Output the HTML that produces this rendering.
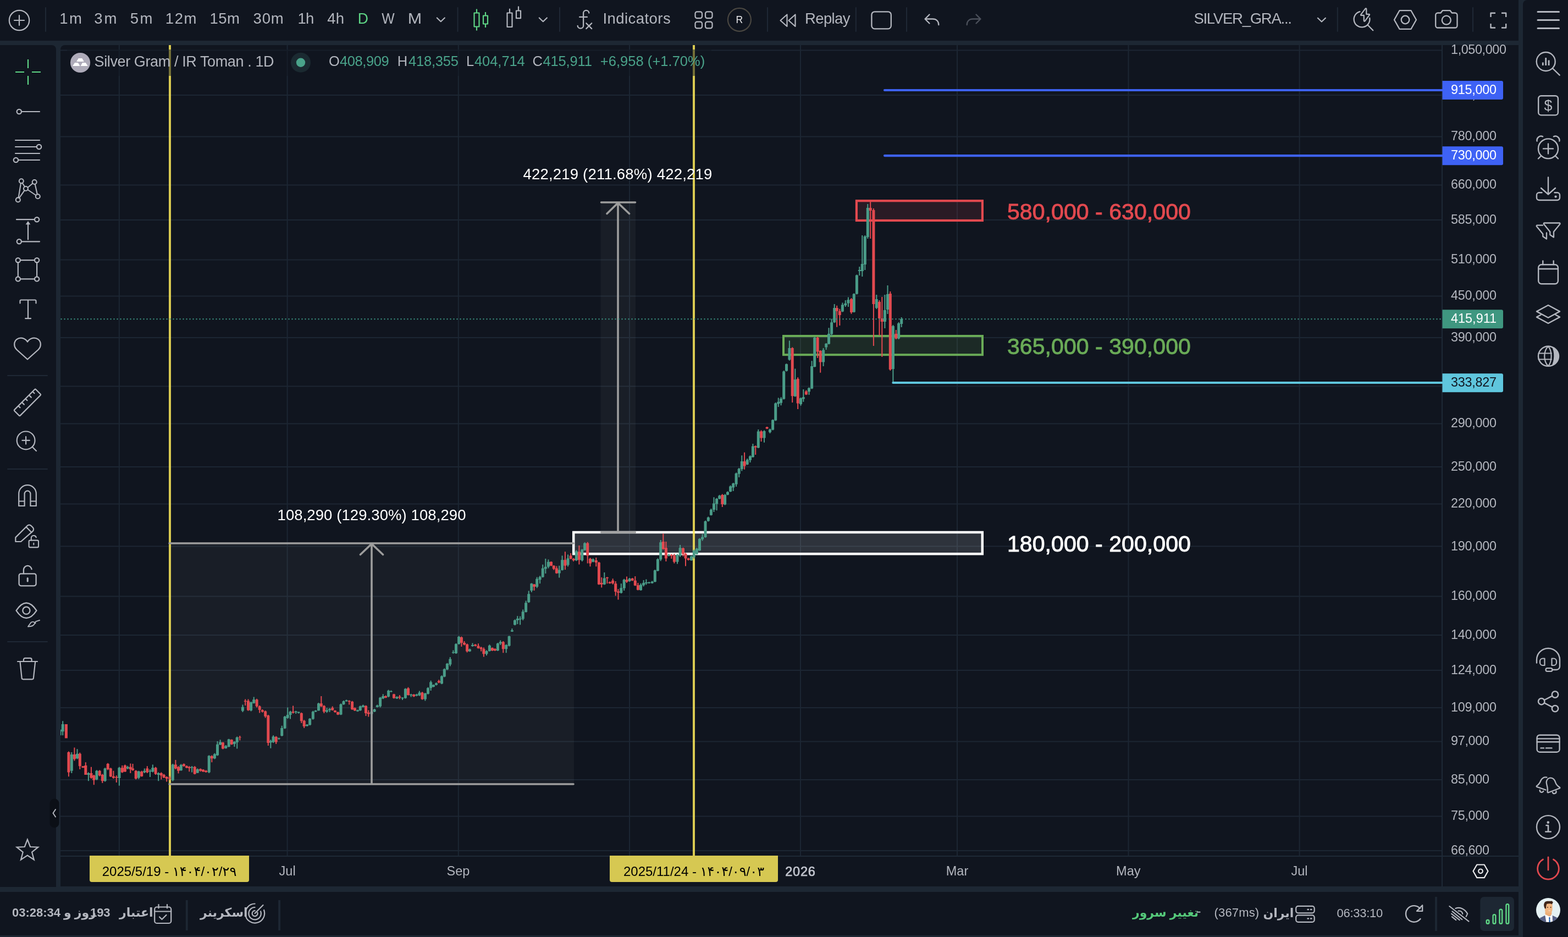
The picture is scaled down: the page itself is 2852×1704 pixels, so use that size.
<!DOCTYPE html>
<html><head><meta charset="utf-8"><title>Chart</title>
<style>
html,body{margin:0;padding:0;background:#1d2733;}
body{width:2852px;height:1704px;position:relative;overflow:hidden;font-family:"Liberation Sans", sans-serif;}
svg text{font-family:"Liberation Sans", sans-serif;}
</style></head><body>
<svg width="2852" height="1704" viewBox="0 0 2852 1704" style="position:absolute;left:0;top:0;display:block;will-change:transform"><rect x="0" y="0" width="2852" height="1704" fill="#1d2733"/>
<rect x="0" y="0" width="2762" height="74" fill="#10151f"/>
<path d="M0 82H94a8 8 0 0 1 8 8V1613H0Z" fill="#10151f"/>
<path d="M118 82H2762V1612H110V90a8 8 0 0 1 8-8Z" fill="#10151f"/>
<rect x="0" y="1622" width="2762" height="79" fill="#10151f"/>
<path d="M2778 0H2852V1704H2770V8a8 8 0 0 1 8-8Z" fill="#10151f"/>
<path d="M216.8 82V1556M522.6 82V1556M833.8 82V1556M1145 82V1556M1456 82V1556M1741 82V1556M2052.5 82V1556M2363.6 82V1556M110 91.5H2622M110 173.0H2622M110 248.5H2622M110 336.5H2622M110 400.0H2622M110 472.5H2622M110 538.5H2622M110 614.0H2622M110 702.5H2622M110 770.5H2622M110 849.0H2622M110 916.5H2622M110 993.5H2622M110 1084.5H2622M110 1155.0H2622M110 1219.0H2622M110 1287.0H2622M110 1348.5H2622M110 1418.0H2622M110 1484.5H2622M110 1547.0H2622" stroke="#1c2633" stroke-width="2" fill="none"/>
<path d="M110 1557H2762M2623 82V1612" stroke="#1e2936" stroke-width="2" fill="none"/>
<rect x="309" y="988" width="735" height="438" fill="rgba(158,158,158,0.065)"/>
<rect x="1092.5" y="368" width="63.5" height="600" fill="rgba(158,158,158,0.065)"/>
<rect x="1043" y="968" width="744" height="39.5" fill="rgba(255,255,255,0.13)"/>
<rect x="1425" y="611" width="362" height="34.2" fill="rgba(106,171,86,0.14)"/>
<rect x="1558" y="365.2" width="229" height="35.8" fill="rgba(226,73,79,0.12)"/>
<rect x="1043.2" y="968" width="743.6" height="39.3" fill="none" stroke="#ffffff" stroke-width="4.5"/>
<rect x="1425" y="611" width="362" height="34.2" fill="none" stroke="#6aab57" stroke-width="4"/>
<rect x="1557.9" y="365.2" width="229" height="35.8" fill="none" stroke="#e2494f" stroke-width="4.2"/>
<path d="M309 82V1556M1262 82V1556" stroke="rgba(250,232,90,0.86)" stroke-width="4"/>
<clipPath id="cc"><rect x="110" y="82" width="2512" height="1474"/></clipPath>
<g clip-path="url(#cc)"><path d="M108.1 1326.8h2V1337.3h-2ZM113.2 1311.2h2V1337.3h-2ZM129.3 1367.9h2V1406.1h-2ZM139.5 1362.2h2V1380.6h-2ZM159.9 1404.6h2V1420.2h-2ZM174.9 1400.4h2V1418.8h-2ZM190.1 1396.2h2V1421.6h-2ZM215.9 1394.7h2V1428.7h-2ZM231.2 1392.8h2V1399h-2ZM251.3 1401.8h2V1416.8h-2ZM261.8 1397.6h2V1406.1h-2ZM271.9 1399h2V1413.1h-2ZM276.8 1390.5h2V1404.6h-2ZM287.2 1404.6h2V1420.2h-2ZM313.3 1389.1h2V1420.8h-2ZM328.3 1389.6h2V1401.8h-2ZM348.1 1393.3h2V1404.6h-2ZM358.3 1397.6h2V1406.1h-2ZM379.2 1373.5h2V1406.1h-2ZM389.4 1369.8h2V1380.6h-2ZM394.5 1348h2V1374.4h-2ZM399.6 1345.2h2V1355.1h-2ZM409.8 1355.1h2V1361.6h-2ZM415.2 1343.8h2V1358.8h-2ZM425.4 1348h2V1357.9h-2ZM430.2 1339.5h2V1361.6h-2ZM440.4 1281.5h2V1295.1h-2ZM455.6 1275.9h2V1293.4h-2ZM460.7 1267.4h2V1279.5h-2ZM491.3 1345.2h2V1360.8h-2ZM496.1 1337.3h2V1350.9h-2ZM506.3 1341.5h2V1344.9h-2ZM511.7 1319.7h2V1339h-2ZM517.1 1301.9h2V1325.4h-2ZM522.2 1286.6h2V1307h-2ZM527 1292.8h2V1307.6h-2ZM537.2 1292.8h2V1297.9h-2ZM542.2 1294.3h2V1297.4h-2ZM557.5 1316.9h2V1321.1h-2ZM562.6 1305.9h2V1319.2h-2ZM568.3 1292.8h2V1308.7h-2ZM573.1 1291.4h2V1295.1h-2ZM578.5 1278.1h2V1292.8h-2ZM593.5 1287.2h2V1296.2h-2ZM598.6 1287.7h2V1295.1h-2ZM619 1279.5h2V1300.2h-2ZM624 1273.9h2V1281.8h-2ZM629.1 1272.5h2V1276.1h-2ZM649.5 1290.6h2V1294.3h-2ZM654.3 1283.2h2V1292.8h-2ZM659.4 1281.5h2V1286.6h-2ZM675 1292.8h2V1302.8h-2ZM680.1 1288.9h2V1295.1h-2ZM685.2 1281.5h2V1286.6h-2ZM690.6 1267.4h2V1286.6h-2ZM695.7 1262.3h2V1271.3h-2ZM705.6 1254.6h2V1267.9h-2ZM710.4 1255.5h2V1258.9h-2ZM720.9 1266.2h2V1271.1h-2ZM731 1267.9h2V1273h-2ZM736.4 1251.5h2V1270.5h-2ZM746.6 1261.7h2V1267.4h-2ZM756.8 1261.7h2V1266.2h-2ZM761.9 1256.6h2V1265.7h-2ZM772.4 1260h2V1274.4h-2ZM777.5 1249.8h2V1262.8h-2ZM782.6 1237.7h2V1256h-2ZM787.4 1244.7h2V1249.8h-2ZM792.5 1241.3h2V1246.4h-2ZM802.5 1228.3h2V1244.2h-2ZM807.3 1215.6h2V1231.4h-2ZM812.4 1205.7h2V1218.4h-2ZM817.8 1194.9h2V1211.4h-2ZM823.4 1182.5h2V1188.7h-2ZM828.5 1170h2V1189h-2ZM833.6 1156.4h2V1172h-2ZM853.4 1179.6h2V1185.3h-2ZM858.5 1169.5h2V1176h-2ZM884 1182.5h2V1192.1h-2ZM889.4 1172.3h2V1184.7h-2ZM904.4 1168.9h2V1183.9h-2ZM909.2 1164.6h2V1173.1h-2ZM919.7 1171.7h2V1187.3h-2ZM925.1 1156.2h2V1175.4h-2ZM930.4 1142.9h2V1149.1h-2ZM935.5 1126.4h2V1137.2h-2ZM940.3 1120.2h2V1134.9h-2ZM945.1 1120.8h2V1136.3h-2ZM950.2 1108.6h2V1127.9h-2ZM955.6 1092.5h2V1113.7h-2ZM960.7 1074.6h2V1096.2h-2ZM965.8 1060.5h2V1076.9h-2ZM975.7 1049.4h2V1069.3h-2ZM981.1 1047.2h2V1061.3h-2ZM986.2 1026.8h2V1050.3h-2ZM991.3 1016h2V1042.9h-2ZM996.4 1017.5h2V1033.6h-2ZM1016.2 1028.8h2V1050.6h-2ZM1021.6 1010.4h2V1037.6h-2ZM1032 1008.4h2V1030.2h-2ZM1047.3 1000.5h2V1020.3h-2ZM1057.8 998.5h2V1021.1h-2ZM1062.6 986.3h2V1001.3h-2ZM1077.6 1015.5h2V1022.6h-2ZM1098.3 1041h2V1063.6h-2ZM1128.8 1061.3h2V1079.2h-2ZM1134.2 1052.8h2V1074.1h-2ZM1144.1 1051.1h2V1057.9h-2ZM1164.5 1060.8h2V1074.1h-2ZM1169.6 1055.1h2V1066.4h-2ZM1174.4 1053.4h2V1063.6h-2ZM1179.5 1057.9h2V1061.3h-2ZM1185.2 1056.5h2V1061.3h-2ZM1190.3 1035.9h2V1058.8h-2ZM1195.4 1015.5h2V1039h-2ZM1200.7 982.1h2V1020.3h-2ZM1215.5 1007h2V1011.8h-2ZM1231 1007.6h2V1025.4h-2ZM1236.1 991.1h2V1012.7h-2ZM1256.5 1010.4h2V1019.7h-2ZM1261.3 999.6h2V1016h-2ZM1266.4 996.2h2V1008.4h-2ZM1271.5 978.7h2V1001.9h-2ZM1276.6 971.3h2V983.5h-2ZM1282 946.7h2V977.8h-2ZM1287.3 939.6h2V948.4h-2ZM1292.4 924.9h2V937.6h-2ZM1297.5 904.2h2V931.1h-2ZM1302.6 905.7h2V928.3h-2ZM1307.7 900h2V907.9h-2ZM1317.6 898.6h2V918.4h-2ZM1322.5 893.4h2V900.5h-2ZM1327.6 882.7h2V894.8h-2ZM1332.7 877.9h2V892.9h-2ZM1338.1 859.5h2V884.9h-2ZM1343.2 851h2V868h-2ZM1348.3 828.3h2V856.6h-2ZM1358.2 834h2V845.6h-2ZM1363.5 828.3h2V841.1h-2ZM1368.4 807.1h2V832h-2ZM1378.3 781.1h2V815h-2ZM1389 782.5h2V804.8h-2ZM1399.5 779.6h2V788.1h-2ZM1404.6 762.7h2V782.5h-2ZM1409.7 732.1h2V765.5h-2ZM1414.8 723.6h2V740h-2ZM1419.6 722.2h2V737.2h-2ZM1424.7 674.1h2V726.4h-2ZM1429.5 661.3h2V675.5h-2ZM1434.9 619.4h2V655.7h-2ZM1445.3 670.4h2V721.6h-2ZM1455.5 723h2V737.8h-2ZM1460.3 708h2V730.7h-2ZM1470.5 704.4h2V717.9h-2ZM1475.6 656.2h2V707.5h-2ZM1480.7 612.7h2V667.8h-2ZM1496.6 633h2V666.1h-2ZM1501.7 624h2V635.9h-2ZM1506.5 596.2h2V626.2h-2ZM1511.6 579.8h2V611.8h-2ZM1516.7 552.9h2V587.2h-2ZM1531.4 550.4h2V567.4h-2ZM1536.8 545.9h2V558h-2ZM1541.9 540.5h2V558h-2ZM1552.3 533.4h2V568.2h-2ZM1557.4 499.4h2V535.4h-2ZM1562.3 485h2V501h-2ZM1567.3 428h2V503h-2ZM1572.3 428h2V491h-2ZM1577.3 371h2V434h-2ZM1593.3 536h2V562h-2ZM1608.4 536h2V597h-2ZM1613.5 519h2V571h-2ZM1623.4 591h2V695h-2ZM1633.6 586h2V617h-2ZM1638.7 577h2V595h-2ZM106.6 1326.8h5.0V1337.3h-5.0ZM111.7 1316.9h5.0V1330.2h-5.0ZM127.8 1372.1h5.0V1401.8h-5.0ZM138 1370.7h5.0V1379.2h-5.0ZM158.4 1406.1h5.0V1408.9h-5.0ZM173.4 1401.8h5.0V1417.4h-5.0ZM188.6 1397.6h5.0V1420.2h-5.0ZM214.4 1396.2h5.0V1415.1h-5.0ZM229.7 1394.7h5.0V1397.6h-5.0ZM249.8 1402.7h5.0V1414.6h-5.0ZM260.3 1401.8h5.0V1404.6h-5.0ZM270.4 1401.8h5.0V1403.2h-5.0ZM275.3 1396.2h5.0V1403.2h-5.0ZM285.7 1406.1h5.0V1408.9h-5.0ZM311.8 1390.5h5.0V1418.8h-5.0ZM326.8 1391.1h5.0V1401h-5.0ZM346.6 1394.7h5.0V1396.2h-5.0ZM356.8 1399h5.0V1405.5h-5.0ZM377.7 1374.4h5.0V1404.6h-5.0ZM387.9 1371.5h5.0V1379.2h-5.0ZM393 1353.7h5.0V1373.5h-5.0ZM398.1 1349.5h5.0V1354.3h-5.0ZM408.3 1356.5h5.0V1360.8h-5.0ZM413.7 1344.6h5.0V1357.9h-5.0ZM423.9 1348.9h5.0V1352.9h-5.0ZM428.7 1341h5.0V1350h-5.0ZM438.9 1285.8h5.0V1292.8h-5.0ZM454.1 1277.3h5.0V1292h-5.0ZM459.2 1272.2h5.0V1278.7h-5.0ZM489.8 1347.5h5.0V1350.3h-5.0ZM494.6 1339.5h5.0V1349.5h-5.0ZM504.8 1342.4h5.0V1343.8h-5.0ZM510.2 1324h5.0V1338.1h-5.0ZM515.6 1303.3h5.0V1324.5h-5.0ZM520.7 1299.9h5.0V1305.6h-5.0ZM525.5 1294.3h5.0V1299.9h-5.0ZM535.7 1293.7h5.0V1295.1h-5.0ZM540.7 1294.8h5.0V1296.5h-5.0ZM556 1317.8h5.0V1320.3h-5.0ZM561.1 1307h5.0V1318.3h-5.0ZM566.8 1294.3h5.0V1307.6h-5.0ZM571.6 1292.3h5.0V1294.3h-5.0ZM577 1279.3h5.0V1292.3h-5.0ZM592 1291.4h5.0V1294.3h-5.0ZM597.1 1289.2h5.0V1291.4h-5.0ZM617.5 1280.7h5.0V1299.4h-5.0ZM622.5 1275.3h5.0V1281h-5.0ZM627.6 1273.6h5.0V1275.3h-5.0ZM648 1291.4h5.0V1293.4h-5.0ZM652.8 1284.4h5.0V1292h-5.0ZM657.9 1282.9h5.0V1285.8h-5.0ZM673.5 1294.3h5.0V1298.5h-5.0ZM678.6 1290h5.0V1294.3h-5.0ZM683.7 1282.9h5.0V1285.8h-5.0ZM689.1 1268.8h5.0V1284.4h-5.0ZM694.2 1266h5.0V1270.2h-5.0ZM704.1 1256h5.0V1266.8h-5.0ZM708.9 1256.9h5.0V1258.1h-5.0ZM719.4 1267.4h5.0V1270.2h-5.0ZM729.5 1268.8h5.0V1270.2h-5.0ZM734.9 1252.7h5.0V1269.6h-5.0ZM745.1 1263.1h5.0V1264.5h-5.0ZM755.3 1263.1h5.0V1265.1h-5.0ZM760.4 1259.4h5.0V1264.5h-5.0ZM770.9 1261.1h5.0V1271.6h-5.0ZM776 1251.2h5.0V1261.7h-5.0ZM781.1 1240.5h5.0V1251.2h-5.0ZM785.9 1245.6h5.0V1249h-5.0ZM791 1242.5h5.0V1245.6h-5.0ZM801 1229.7h5.0V1243.3h-5.0ZM805.8 1217h5.0V1230.6h-5.0ZM810.9 1207.1h5.0V1217.6h-5.0ZM816.3 1198.6h5.0V1208.5h-5.0ZM821.9 1185.9h5.0V1187.3h-5.0ZM827 1171.2h5.0V1188.1h-5.0ZM832.1 1158.1h5.0V1171.2h-5.0ZM851.9 1180.8h5.0V1184.5h-5.0ZM857 1173.1h5.0V1175.1h-5.0ZM882.5 1183.9h5.0V1189.3h-5.0ZM887.9 1174h5.0V1183.9h-5.0ZM902.9 1170.3h5.0V1183h-5.0ZM907.7 1167.5h5.0V1170.3h-5.0ZM918.2 1173.1h5.0V1180.2h-5.0ZM923.6 1157h5.0V1174.6h-5.0ZM928.9 1146.2h5.0V1148.5h-5.0ZM934 1127.9h5.0V1136.3h-5.0ZM938.8 1125h5.0V1127.9h-5.0ZM943.6 1125h5.0V1126.4h-5.0ZM948.7 1112.3h5.0V1125.6h-5.0ZM954.1 1096.2h5.0V1112.9h-5.0ZM959.2 1080.3h5.0V1095.3h-5.0ZM964.3 1061.3h5.0V1074.1h-5.0ZM974.2 1052.8h5.0V1067h-5.0ZM979.6 1049.2h5.0V1054.3h-5.0ZM984.7 1033.6h5.0V1049.4h-5.0ZM989.8 1030.8h5.0V1034.4h-5.0ZM994.9 1021.7h5.0V1030.8h-5.0ZM1014.7 1036.4h5.0V1042.4h-5.0ZM1020.1 1018.3h5.0V1036.7h-5.0ZM1030.5 1015.5h5.0V1027.4h-5.0ZM1045.8 1002.5h5.0V1018.9h-5.0ZM1056.3 999.6h5.0V1018.9h-5.0ZM1061.1 987.7h5.0V1000.5h-5.0ZM1076.1 1016.9h5.0V1021.7h-5.0ZM1096.8 1051.4h5.0V1062.8h-5.0ZM1127.3 1069.3h5.0V1078.3h-5.0ZM1132.7 1054.3h5.0V1069.8h-5.0ZM1142.6 1052.3h5.0V1057.1h-5.0ZM1163 1063.6h5.0V1073.2h-5.0ZM1168.1 1059.9h5.0V1064.2h-5.0ZM1172.9 1059.1h5.0V1060.8h-5.0ZM1178 1059.1h5.0V1060.5h-5.0ZM1183.7 1057.7h5.0V1060.5h-5.0ZM1188.8 1037.3h5.0V1057.9h-5.0ZM1193.9 1016.9h5.0V1038.1h-5.0ZM1199.2 986.3h5.0V1017.5h-5.0ZM1214 1009h5.0V1011h-5.0ZM1229.5 1009h5.0V1021.7h-5.0ZM1234.6 996.2h5.0V1010.4h-5.0ZM1255 1011.8h5.0V1018.9h-5.0ZM1259.8 1001.3h5.0V1013.2h-5.0ZM1264.9 997.7h5.0V1007.6h-5.0ZM1270 980.1h5.0V1001h-5.0ZM1275.1 976.4h5.0V980.7h-5.0ZM1280.5 948.1h5.0V977h-5.0ZM1285.8 941h5.0V947.6h-5.0ZM1290.9 926.9h5.0V936.8h-5.0ZM1296 915.6h5.0V926.9h-5.0ZM1301.1 907.1h5.0V916.4h-5.0ZM1306.2 901.4h5.0V907.1h-5.0ZM1316.1 900h5.0V917.5h-5.0ZM1321 894.8h5.0V899.7h-5.0ZM1326.1 884.4h5.0V894h-5.0ZM1331.2 879.3h5.0V886.4h-5.0ZM1336.6 860.9h5.0V880.7h-5.0ZM1341.7 852.4h5.0V861.7h-5.0ZM1346.8 839.1h5.0V853h-5.0ZM1356.7 836.3h5.0V844.7h-5.0ZM1362 829.7h5.0V836.8h-5.0ZM1366.9 811.4h5.0V831.2h-5.0ZM1376.8 784.5h5.0V814.2h-5.0ZM1387.5 783.9h5.0V796.6h-5.0ZM1398 781.1h5.0V785.9h-5.0ZM1403.1 763.8h5.0V781.6h-5.0ZM1408.2 733.5h5.0V764.6h-5.0ZM1413.3 730.7h5.0V734.4h-5.0ZM1418.1 725h5.0V732.7h-5.0ZM1423.2 675.5h5.0V725.6h-5.0ZM1428 662.2h5.0V674.6h-5.0ZM1433.4 633h5.0V654.3h-5.0ZM1443.8 690.2h5.0V720.8h-5.0ZM1454 724.2h5.0V734.9h-5.0ZM1458.8 722.2h5.0V725.6h-5.0ZM1469 705.8h5.0V712.3h-5.0ZM1474.1 666.1h5.0V706.6h-5.0ZM1479.2 614.1h5.0V667h-5.0ZM1495.1 636.4h5.0V658.5h-5.0ZM1500.2 625.1h5.0V631.6h-5.0ZM1505 607h5.0V625.4h-5.0ZM1510.1 586.3h5.0V607.6h-5.0ZM1515.2 560h5.0V586.3h-5.0ZM1529.9 554.3h5.0V566.5h-5.0ZM1535.3 551.8h5.0V555.2h-5.0ZM1540.4 545.3h5.0V551.5h-5.0ZM1550.8 534.5h5.0V567.4h-5.0ZM1555.9 500.6h5.0V534.5h-5.0ZM1560.8 491h5.0V493h-5.0ZM1565.8 480h5.0V493h-5.0ZM1570.8 430h5.0V481h-5.0ZM1575.8 378h5.0V431h-5.0ZM1591.8 544h5.0V560h-5.0ZM1606.9 564h5.0V585h-5.0ZM1612 535h5.0V563h-5.0ZM1621.9 593h5.0V671h-5.0ZM1632.1 588h5.0V615.5h-5.0ZM1637.2 580h5.0V589h-5.0Z" fill="#4a9c88"/>
<path d="M119.4 1316.9h2V1342.4h-2ZM123.9 1366.4h2V1412.3h-2ZM134.4 1359.4h2V1383.4h-2ZM144.3 1368.7h2V1399h-2ZM149.9 1393.3h2V1396.2h-2ZM154.8 1386.2h2V1408.9h-2ZM164.9 1394.7h2V1416h-2ZM169.8 1408.9h2V1427.3h-2ZM180.2 1400.4h2V1411.7h-2ZM185.3 1407.5h2V1423.9h-2ZM195.2 1387.7h2V1400.4h-2ZM200.3 1396.2h2V1413.1h-2ZM205.4 1401.8h2V1416h-2ZM210.8 1410.3h2V1423h-2ZM221.3 1391.9h2V1405.5h-2ZM226.4 1390.5h2V1404.1h-2ZM236.3 1388.5h2V1406.1h-2ZM240.5 1389.1h2V1401.8h-2ZM246.2 1400.4h2V1417.4h-2ZM256.7 1401.8h2V1412.6h-2ZM266.8 1393.3h2V1406.1h-2ZM282.1 1394.7h2V1408.9h-2ZM292.3 1404.6h2V1417.4h-2ZM297.1 1407.5h2V1415.1h-2ZM302.2 1411.7h2V1421.6h-2ZM307.6 1411.2h2V1418.8h-2ZM318.4 1382h2V1399h-2ZM323.5 1393.3h2V1406.6h-2ZM333.4 1388.5h2V1394.2h-2ZM338.5 1391.9h2V1397h-2ZM343.3 1393.3h2V1403.2h-2ZM353.2 1393.3h2V1408.3h-2ZM363.6 1397.6h2V1403.2h-2ZM368.5 1399h2V1404.1h-2ZM373.6 1400.4h2V1404.9h-2ZM384.3 1373.5h2V1386.2h-2ZM404.4 1349.5h2V1362.5h-2ZM420.3 1344.4h2V1354.5h-2ZM435.3 1338.1h2V1346.6h-2ZM445.2 1271.6h2V1282.9h-2ZM450.5 1271.6h2V1292.8h-2ZM466.1 1270.8h2V1286.6h-2ZM471.2 1282.9h2V1296.5h-2ZM476.3 1290h2V1295.7h-2ZM481.7 1292.3h2V1305.6h-2ZM486.8 1299.9h2V1356h-2ZM501.2 1338.7h2V1352.9h-2ZM532.1 1283.5h2V1297.4h-2ZM547.3 1295.7h2V1314.9h-2ZM552.2 1309.3h2V1324h-2ZM583.3 1266h2V1285.8h-2ZM588.4 1282.4h2V1297.1h-2ZM603.7 1284.4h2V1292.3h-2ZM608.5 1291.4h2V1296h-2ZM613.6 1294.3h2V1300.2h-2ZM634.2 1273.6h2V1281.5h-2ZM639.6 1274.7h2V1291.1h-2ZM644.4 1286.6h2V1293.1h-2ZM664.5 1282.7h2V1301.9h-2ZM669.3 1291.4h2V1303.6h-2ZM700.5 1264.8h2V1269.6h-2ZM715.5 1261.7h2V1270.5h-2ZM725.9 1264h2V1271.6h-2ZM741.5 1249.8h2V1264.8h-2ZM751.7 1262.3h2V1267.4h-2ZM767 1258.3h2V1272.5h-2ZM797.3 1236.2h2V1242.5h-2ZM838.4 1157.6h2V1176h-2ZM843.5 1166.1h2V1173.4h-2ZM848.6 1170.6h2V1186.4h-2ZM863.6 1171.2h2V1175.4h-2ZM869 1170.3h2V1179.6h-2ZM874.1 1176.3h2V1184.5h-2ZM878.9 1177.4h2V1194.4h-2ZM894.5 1177.4h2V1183.9h-2ZM899.3 1179.1h2V1183.9h-2ZM914.3 1166.1h2V1187.3h-2ZM970.6 1061.9h2V1074.1h-2ZM1001.5 1020.9h2V1029.6h-2ZM1006.3 1027.9h2V1036.4h-2ZM1011.4 1029.6h2V1043.2h-2ZM1026.9 1003.3h2V1035.9h-2ZM1037.1 1006.1h2V1016.9h-2ZM1042.2 1014.9h2V1021.1h-2ZM1052.4 992h2V1026.5h-2ZM1067.7 985.8h2V1024.5h-2ZM1072.5 1014.6h2V1030.2h-2ZM1083.3 1014.1h2V1030.2h-2ZM1088.4 1021.7h2V1063.6h-2ZM1093.2 1050h2V1068.4h-2ZM1103.4 1049.2h2V1061.3h-2ZM1108.2 1057.4h2V1061.6h-2ZM1113.6 1052.3h2V1062.8h-2ZM1118.7 1057.1h2V1083.4h-2ZM1123.5 1071.2h2V1090.5h-2ZM1139 1048.6h2V1059.9h-2ZM1149.2 1050.9h2V1056.5h-2ZM1154.3 1048h2V1065.6h-2ZM1159.4 1059.9h2V1073.5h-2ZM1205.3 970.2h2V999.6h-2ZM1210.4 984.9h2V1020.9h-2ZM1220.3 1007.6h2V1016h-2ZM1225.4 1007h2V1024.5h-2ZM1241.5 995.7h2V1011.8h-2ZM1246 1005.3h2V1029.6h-2ZM1251.1 1014.4h2V1019.2h-2ZM1312.8 898.6h2V922.1h-2ZM1353.1 822.7h2V853.8h-2ZM1373.2 810.2h2V826.9h-2ZM1383.6 782.5h2V802.9h-2ZM1394.1 776h2V780.2h-2ZM1440.2 631.6h2V732.1h-2ZM1450.2 686.2h2V744h-2ZM1465.4 709.5h2V718.2h-2ZM1486.1 612.4h2V650.9h-2ZM1491.2 637h2V677.8h-2ZM1521.2 555.8h2V594.8h-2ZM1526.3 561.7h2V592h-2ZM1547.5 541.9h2V570.8h-2ZM1582.2 367h2V434h-2ZM1587.9 379h2V629h-2ZM1598.5 546h2V610h-2ZM1603.3 540h2V649h-2ZM1618.3 530h2V674h-2ZM1628.8 600h2V617h-2ZM117.9 1316.9h5.0V1342.4h-5.0ZM122.4 1367.9h5.0V1404.6h-5.0ZM132.9 1372.1h5.0V1380.6h-5.0ZM142.8 1370.7h5.0V1393.3h-5.0ZM148.4 1393.3h5.0V1396.2h-5.0ZM153.3 1391.9h5.0V1408.9h-5.0ZM163.4 1406.1h5.0V1414.6h-5.0ZM168.3 1410.3h5.0V1418.8h-5.0ZM178.7 1401.8h5.0V1410.3h-5.0ZM183.8 1408.9h5.0V1420.2h-5.0ZM193.7 1389.1h5.0V1399h-5.0ZM198.8 1397.6h5.0V1412.3h-5.0ZM203.9 1411.7h5.0V1414.6h-5.0ZM209.3 1413.1h5.0V1414.6h-5.0ZM219.8 1396.2h5.0V1404.6h-5.0ZM224.9 1391.9h5.0V1403.2h-5.0ZM234.8 1394.7h5.0V1399h-5.0ZM239 1397.6h5.0V1400.4h-5.0ZM244.7 1401.8h5.0V1416h-5.0ZM255.2 1403.2h5.0V1411.7h-5.0ZM265.3 1397.6h5.0V1404.6h-5.0ZM280.6 1396.2h5.0V1407.5h-5.0ZM290.8 1406.1h5.0V1410.3h-5.0ZM295.6 1408.9h5.0V1414h-5.0ZM300.7 1413.1h5.0V1416h-5.0ZM306.1 1414.6h5.0V1416h-5.0ZM316.9 1390.5h5.0V1397.6h-5.0ZM322 1394.7h5.0V1401.8h-5.0ZM331.9 1389.6h5.0V1393.3h-5.0ZM337 1393.3h5.0V1396.2h-5.0ZM341.8 1394.7h5.0V1397h-5.0ZM351.7 1394.7h5.0V1407.5h-5.0ZM362.1 1398.4h5.0V1401.8h-5.0ZM367 1399.8h5.0V1403.2h-5.0ZM372.1 1401.8h5.0V1404.1h-5.0ZM382.8 1374.9h5.0V1379.2h-5.0ZM402.9 1350.3h5.0V1361.6h-5.0ZM418.8 1345.2h5.0V1353.7h-5.0ZM433.8 1340.4h5.0V1341.6h-5.0ZM443.7 1274.4h5.0V1275.9h-5.0ZM449 1274.4h5.0V1291.4h-5.0ZM464.6 1272.2h5.0V1284.4h-5.0ZM469.7 1284.4h5.0V1290.9h-5.0ZM474.8 1291.4h5.0V1294.3h-5.0ZM480.2 1293.4h5.0V1302.8h-5.0ZM485.3 1301.3h5.0V1350.9h-5.0ZM499.7 1340.1h5.0V1349.5h-5.0ZM530.6 1294.3h5.0V1296.2h-5.0ZM545.8 1297.1h5.0V1311.2h-5.0ZM550.7 1310.7h5.0V1321.1h-5.0ZM581.8 1279.3h5.0V1284.4h-5.0ZM586.9 1283.8h5.0V1294.3h-5.0ZM602.2 1287.2h5.0V1291.4h-5.0ZM607 1292.3h5.0V1295.1h-5.0ZM612.1 1295.1h5.0V1299.4h-5.0ZM632.7 1274.4h5.0V1275.9h-5.0ZM638.1 1275.9h5.0V1290h-5.0ZM642.9 1287.7h5.0V1292.3h-5.0ZM663 1283.8h5.0V1297.1h-5.0ZM667.8 1295.7h5.0V1298.5h-5.0ZM699 1266h5.0V1268.8h-5.0ZM714 1262.6h5.0V1269.6h-5.0ZM724.4 1266.8h5.0V1268.8h-5.0ZM740 1251.8h5.0V1264h-5.0ZM750.2 1263.1h5.0V1266.5h-5.0ZM765.5 1259.4h5.0V1271.6h-5.0ZM795.8 1238.5h5.0V1241.3h-5.0ZM836.9 1159h5.0V1168.9h-5.0ZM842 1168.9h5.0V1172.3h-5.0ZM847.1 1171.7h5.0V1184.5h-5.0ZM862.1 1172.3h5.0V1174.6h-5.0ZM867.5 1174.6h5.0V1178.8h-5.0ZM872.6 1177.4h5.0V1180.2h-5.0ZM877.4 1180.2h5.0V1189.3h-5.0ZM893 1178.2h5.0V1183h-5.0ZM897.8 1180.2h5.0V1183h-5.0ZM912.8 1167.5h5.0V1180.2h-5.0ZM969.1 1062.8h5.0V1067h-5.0ZM1000 1021.7h5.0V1028.8h-5.0ZM1004.8 1028.8h5.0V1034.4h-5.0ZM1009.9 1033.6h5.0V1042.4h-5.0ZM1025.4 1018.3h5.0V1028.8h-5.0ZM1035.6 1010.4h5.0V1016h-5.0ZM1040.7 1016h5.0V1018.9h-5.0ZM1050.9 1003.3h5.0V1018.3h-5.0ZM1066.2 987.7h5.0V1010.4h-5.0ZM1071 1016h5.0V1024.5h-5.0ZM1081.8 1018.9h5.0V1023.1h-5.0ZM1086.9 1023.1h5.0V1062.8h-5.0ZM1091.7 1059.9h5.0V1062.8h-5.0ZM1101.9 1050h5.0V1051.4h-5.0ZM1106.7 1058.5h5.0V1060.8h-5.0ZM1112.1 1055.7h5.0V1060.8h-5.0ZM1117.2 1061.3h5.0V1076.1h-5.0ZM1122 1075.5h5.0V1077.8h-5.0ZM1137.5 1054.3h5.0V1057.9h-5.0ZM1147.7 1052h5.0V1055.7h-5.0ZM1152.8 1055.7h5.0V1064.7h-5.0ZM1157.9 1064.2h5.0V1072.7h-5.0ZM1203.8 984.9h5.0V998.5h-5.0ZM1208.9 996.2h5.0V1015.5h-5.0ZM1218.8 1009h5.0V1011h-5.0ZM1223.9 1010.4h5.0V1021.7h-5.0ZM1240 997.1h5.0V1007.6h-5.0ZM1244.5 1007h5.0V1015.5h-5.0ZM1249.6 1015.5h5.0V1018.3h-5.0ZM1311.3 900h5.0V917h-5.0ZM1351.6 839.1h5.0V847.6h-5.0ZM1371.7 811.4h5.0V813.6h-5.0ZM1382.1 784.5h5.0V796.6h-5.0ZM1392.6 776.8h5.0V779.6h-5.0ZM1438.7 633h5.0V720.2h-5.0ZM1448.7 689.1h5.0V733.5h-5.0ZM1463.9 711.7h5.0V717.4h-5.0ZM1484.6 614.1h5.0V639.5h-5.0ZM1489.7 638.1h5.0V658.5h-5.0ZM1519.7 560h5.0V565.7h-5.0ZM1524.8 565.7h5.0V573h-5.0ZM1546 543.9h5.0V567.9h-5.0ZM1580.7 378h5.0V383h-5.0ZM1586.4 382h5.0V553h-5.0ZM1597 549h5.0V579h-5.0ZM1601.8 579h5.0V585h-5.0ZM1616.8 534h5.0V672h-5.0ZM1627.3 607h5.0V615.5h-5.0Z" fill="#e2494f"/></g>
<g stroke="#9d9d9d" stroke-width="3.6" fill="none" stroke-linecap="round"><path d="M308 988H1043M308 1426H1043M676 1426V989M655.5 1008.5L676 989L696.5 1008.5"/><path d="M1093.5 368H1155.5M1093.5 968H1155.5M1124 968V369M1104 388.5L1124 369L1144.5 388.5"/></g>
<path d="M1609 164H2623M1609 283.1H2623" stroke="#3e62f5" stroke-width="4.2" stroke-linecap="round"/>
<path d="M1624.300 696H2623" stroke="#5fc6dd" stroke-width="4" stroke-linecap="round"/>
<path d="M110.500 580.300H2622" stroke="#3f9f8b" stroke-width="2" stroke-dasharray="2 4"/>
<rect x="122" y="90" width="1172" height="48" fill="rgba(16,21,31,0.5)"/>
<text x="2639" y="98.2" font-size="23.4" fill="#b3b6be" textLength="101" lengthAdjust="spacing">1,050,000</text>
<text x="2639" y="179.6" font-size="23.4" fill="#b3b6be" textLength="83" lengthAdjust="spacing">900,000</text>
<text x="2639" y="255.1" font-size="23.4" fill="#b3b6be" textLength="83" lengthAdjust="spacing">780,000</text>
<text x="2639" y="343.3" font-size="23.4" fill="#b3b6be" textLength="83" lengthAdjust="spacing">660,000</text>
<text x="2639" y="406.9" font-size="23.4" fill="#b3b6be" textLength="83" lengthAdjust="spacing">585,000</text>
<text x="2639" y="479.3" font-size="23.4" fill="#b3b6be" textLength="83" lengthAdjust="spacing">510,000</text>
<text x="2639" y="545.4" font-size="23.4" fill="#b3b6be" textLength="83" lengthAdjust="spacing">450,000</text>
<text x="2639" y="620.9" font-size="23.4" fill="#b3b6be" textLength="83" lengthAdjust="spacing">390,000</text>
<text x="2639" y="777.3" font-size="23.4" fill="#b3b6be" textLength="83" lengthAdjust="spacing">290,000</text>
<text x="2639" y="855.6" font-size="23.4" fill="#b3b6be" textLength="83" lengthAdjust="spacing">250,000</text>
<text x="2639" y="923.1" font-size="23.4" fill="#b3b6be" textLength="83" lengthAdjust="spacing">220,000</text>
<text x="2639" y="1000.5" font-size="23.4" fill="#b3b6be" textLength="83" lengthAdjust="spacing">190,000</text>
<text x="2639" y="1091.2" font-size="23.4" fill="#b3b6be" textLength="83" lengthAdjust="spacing">160,000</text>
<text x="2639" y="1161.7" font-size="23.4" fill="#b3b6be" textLength="83" lengthAdjust="spacing">140,000</text>
<text x="2639" y="1225.7" font-size="23.4" fill="#b3b6be" textLength="83" lengthAdjust="spacing">124,000</text>
<text x="2639" y="1293.8" font-size="23.4" fill="#b3b6be" textLength="83" lengthAdjust="spacing">109,000</text>
<text x="2639" y="1355.3" font-size="23.4" fill="#b3b6be" textLength="70" lengthAdjust="spacing">97,000</text>
<text x="2639" y="1425" font-size="23.4" fill="#b3b6be" textLength="70" lengthAdjust="spacing">85,000</text>
<text x="2639" y="1491.1" font-size="23.4" fill="#b3b6be" textLength="70" lengthAdjust="spacing">75,000</text>
<text x="2639" y="1553.8" font-size="23.4" fill="#b3b6be" textLength="70" lengthAdjust="spacing">66,600</text>
<path d="M2623.5 147H2731a3 3 0 0 1 3 3V178a3 3 0 0 1-3 3H2623.5Z" fill="#3e62f5"/>
<text x="2639" y="171" font-size="23.4" fill="#ffffff" textLength="83" lengthAdjust="spacing">915,000</text>
<path d="M2623.5 266.3H2731a3 3 0 0 1 3 3V297.3a3 3 0 0 1-3 3H2623.5Z" fill="#3e62f5"/>
<text x="2639" y="290.3" font-size="23.4" fill="#ffffff" textLength="83" lengthAdjust="spacing">730,000</text>
<path d="M2623.5 563.2H2731a3 3 0 0 1 3 3V594.2a3 3 0 0 1-3 3H2623.5Z" fill="#3f9780"/>
<text x="2639" y="587.2" font-size="23.4" fill="#ffffff" textLength="83" lengthAdjust="spacing">415,911</text>
<path d="M2623.5 679.2H2731a3 3 0 0 1 3 3V710.2a3 3 0 0 1-3 3H2623.5Z" fill="#5fc6dd"/>
<text x="2639" y="703.2" font-size="23.4" fill="#10151f" textLength="83" lengthAdjust="spacing">333,827</text>
<text x="522.6" y="1592" font-size="23.5" fill="#b3b6be" text-anchor="middle">Jul</text>
<text x="833.5" y="1592" font-size="23.5" fill="#b3b6be" text-anchor="middle">Sep</text>
<text x="1741" y="1592" font-size="23.5" fill="#b3b6be" text-anchor="middle">Mar</text>
<text x="2052.3" y="1592" font-size="23.5" fill="#b3b6be" text-anchor="middle">May</text>
<text x="2363.5" y="1592" font-size="23.5" fill="#b3b6be" text-anchor="middle">Jul</text>
<text x="1428.2" y="1592.8" font-size="23.5" fill="#c3c6cf" textLength="54.7" lengthAdjust="spacing" stroke="#c3c6cf" stroke-width="0.7">2026</text>
<text x="108.3" y="43" font-size="27.5" fill="#b3b6be" textLength="40.6" lengthAdjust="spacing">1m</text>
<text x="171.3" y="43" font-size="27.5" fill="#b3b6be" textLength="41.1" lengthAdjust="spacing">3m</text>
<text x="236.8" y="43" font-size="27.5" fill="#b3b6be" textLength="40.6" lengthAdjust="spacing">5m</text>
<text x="300.8" y="43" font-size="27.5" fill="#b3b6be" textLength="56.6" lengthAdjust="spacing">12m</text>
<text x="381.6" y="43" font-size="27.5" fill="#b3b6be" textLength="54.300000000000004" lengthAdjust="spacing">15m</text>
<text x="460.5" y="43" font-size="27.5" fill="#b3b6be" textLength="55.2" lengthAdjust="spacing">30m</text>
<text x="541.4" y="43" font-size="27.5" fill="#b3b6be" textLength="29.8" lengthAdjust="spacing">1h</text>
<text x="595.1999999999999" y="43" font-size="27.5" fill="#b3b6be" textLength="30.900000000000002" lengthAdjust="spacing">4h</text>
<text x="650.8" y="43" font-size="27.5" fill="#5fd686" textLength="19.2" lengthAdjust="spacingAndGlyphs">D</text>
<text x="694.2" y="43" font-size="27.5" fill="#b3b6be" textLength="23.4" lengthAdjust="spacingAndGlyphs">W</text>
<text x="741.7" y="43" font-size="27.5" fill="#b3b6be" textLength="25.4" lengthAdjust="spacingAndGlyphs">M</text>
<text x="1096.5" y="43" font-size="27.5" fill="#b3b6be" textLength="123.2" lengthAdjust="spacing">Indicators</text>
<text x="1464" y="43" font-size="27.5" fill="#b3b6be" textLength="82.5" lengthAdjust="spacing">Replay</text>
<text x="2171.4" y="43" font-size="27.5" fill="#b3b6be" textLength="178.5" lengthAdjust="spacing">SILVER_GRA...</text>
<text x="1344.9" y="42" font-size="17.5" fill="#e8e8ea" text-anchor="middle">R</text>
<text x="171.6" y="120.5" font-size="27" fill="#b3b6be" textLength="327" lengthAdjust="spacing">Silver Gram / IR Toman . 1D</text>
<text x="951.4" y="326.3" font-size="27.5" fill="#ffffff" textLength="344" lengthAdjust="spacing">422,219 (211.68%) 422,219</text>
<text x="504.5" y="946.3" font-size="27.5" fill="#ffffff" textLength="343" lengthAdjust="spacing">108,290 (129.30%) 108,290</text>
<text x="1832" y="399.4" font-size="41" fill="#e2494f" textLength="333.8" lengthAdjust="spacing" stroke="#e2494f" stroke-width="0.9" paint-order="stroke">580,000 - 630,000</text>
<text x="1832" y="643.5" font-size="41" fill="#6aab57" textLength="333.8" lengthAdjust="spacing" stroke="#6aab57" stroke-width="0.9" paint-order="stroke">365,000 - 390,000</text>
<text x="1832" y="1003" font-size="41" fill="#ffffff" textLength="333.8" lengthAdjust="spacing" stroke="#ffffff" stroke-width="0.9" paint-order="stroke">180,000 - 200,000</text>
<text x="597.9" y="119.7" font-size="25.5" fill="#b3b6be">O</text>
<text x="618" y="119.7" font-size="25.5" fill="#4aa38a" textLength="89.8" lengthAdjust="spacing">408,909</text>
<text x="722.7" y="119.7" font-size="25.5" fill="#b3b6be">H</text>
<text x="743.1" y="119.7" font-size="25.5" fill="#4aa38a" textLength="90.8" lengthAdjust="spacing">418,355</text>
<text x="848.1" y="119.7" font-size="25.5" fill="#b3b6be">L</text>
<text x="863" y="119.7" font-size="25.5" fill="#4aa38a" textLength="91.8" lengthAdjust="spacing">404,714</text>
<text x="968.6" y="119.7" font-size="25.5" fill="#b3b6be">C</text>
<text x="987.4" y="119.7" font-size="25.5" fill="#4aa38a" textLength="89.5" lengthAdjust="spacing">415,911</text>
<text x="1091.8" y="119.7" font-size="25.5" fill="#4aa38a" textLength="190.5" lengthAdjust="spacing">+6,958 (+1.70%)</text>
<path d="M163 1556H453V1600a4 4 0 0 1 -4 4H167a4 4 0 0 1 -4 -4Z" fill="#d6c852"/>
<path d="M1109 1556H1415V1600a4 4 0 0 1 -4 4H1113a4 4 0 0 1 -4 -4Z" fill="#d6c852"/>
<text x="308" y="1592.8" font-size="24" fill="#000000" text-anchor="middle" style="font-family:'Liberation Sans','DejaVu Sans',sans-serif">2025/5/19 - ۱۴۰۴/۰۲/۲۹</text>
<text x="1262" y="1592.8" font-size="24" fill="#000000" text-anchor="middle" style="font-family:'Liberation Sans','DejaVu Sans',sans-serif">2025/11/24 - ۱۴۰۴/۰۹/۰۳</text>
<text x="22" y="1667.1" font-size="22" font-weight="bold" fill="#b4b7bf" textLength="88" lengthAdjust="spacing">03:28:34</text>
<text x="116" y="1667.1" font-size="22" font-weight="bold" fill="#b4b7bf" style="font-family:'Liberation Sans','DejaVu Sans',sans-serif">روز و</text>
<text x="164" y="1667.1" font-size="22" font-weight="bold" fill="#b4b7bf" textLength="36.5" lengthAdjust="spacing">193</text>
<text x="217" y="1666.8" font-size="22" font-weight="bold" fill="#b4b7bf" style="font-family:'Liberation Sans','DejaVu Sans',sans-serif">اعتبار</text>
<text x="364" y="1667.1" font-size="22" font-weight="bold" fill="#b4b7bf" style="font-family:'Liberation Sans','DejaVu Sans',sans-serif">اسکرینر</text>
<text x="2060" y="1666.7" font-size="22" font-weight="bold" fill="#55c97a" style="font-family:'Liberation Sans','DejaVu Sans',sans-serif">تغییر سرور</text>
<text x="2297.5" y="1667.6" font-size="22" font-weight="bold" fill="#b4b7bf" style="font-family:'Liberation Sans','DejaVu Sans',sans-serif">ایران</text>
<path d="M2176.500 1658.700H2183.400" stroke="#b4b7bf" stroke-width="2"/>
<text x="2208.5" y="1667.1" font-size="22" fill="#b4b7bf" textLength="81.7" lengthAdjust="spacing">(367ms)</text>
<text x="2431.5" y="1667.5" font-size="22" fill="#b4b7bf" textLength="83.7" lengthAdjust="spacing">06:33:10</text>
<circle cx="35" cy="37" r="18.2" fill="none" stroke="#b4b7bf" stroke-width="2.2"/>
<path d="M26 37H44M35 28V46" fill="none" stroke="#b4b7bf" stroke-width="2.2" stroke-linecap="round" stroke-linejoin="round"/>
<path d="M83 14V57M832.5 14V57M1018 14V57M1396 14V57M1556.8 14V57M1649 14V57M2432.8 14V57M2679 14V57" fill="none" stroke="#1f2835" stroke-width="2" stroke-linecap="round" stroke-linejoin="round"/>
<path d="M794.8 32.5L801.8 39.2L808.8 32.5M980.8 32.5L987.8 39.2L994.8 32.5M2396.9 32.8L2403.9 39.5L2410.9 32.8" fill="none" stroke="#b4b7bf" stroke-width="2.2" stroke-linecap="round" stroke-linejoin="round"/>
<path d="M862.5 23.5H871.5V48.5H862.5ZM867 16.5V23.5M867 48.5V55.5M879 28.5H887V43.5H879ZM883 22V28.5M883 43.5V50" fill="none" stroke="#5fd686" stroke-width="2.2" stroke-linecap="butt" stroke-linejoin="round"/>
<path d="M922.5 23.5H931.5V49H922.5ZM927 16.5V23.5M939 19.5H947V33.2H939ZM943 12.3V19.5" fill="none" stroke="#b4b7bf" stroke-width="2.2" stroke-linecap="round" stroke-linejoin="round"/>
<path d="M1050.700 47a5.200 4.600 0 0 0 10.400 0V23.600a5.100 4.800 0 0 1 10.200 0M1054.100 30.900H1067.900" fill="none" stroke="#b4b7bf" stroke-width="2.3" stroke-linecap="round" stroke-linejoin="round"/>
<path d="M1066.300 42.200L1076.200 52.100M1076.200 42.200L1066.300 52.100" fill="none" stroke="#b4b7bf" stroke-width="2.3" stroke-linecap="round" stroke-linejoin="round"/>
<rect x="1264.5" y="21.3" width="12.5" height="11.8" rx="3.4" fill="none" stroke="#b4b7bf" stroke-width="2.2"/>
<rect x="1283" y="21.3" width="12.5" height="11.8" rx="3.4" fill="none" stroke="#b4b7bf" stroke-width="2.2"/>
<rect x="1264.5" y="39.6" width="12.5" height="11.8" rx="3.4" fill="none" stroke="#b4b7bf" stroke-width="2.2"/>
<rect x="1283" y="39.6" width="12.5" height="11.8" rx="3.4" fill="none" stroke="#b4b7bf" stroke-width="2.2"/>
<circle cx="1344.9" cy="35.8" r="21" fill="none" stroke="#4a4741" stroke-width="2.2"/>
<path d="M1431.5 26.5V48L1419.5 37.3ZM1446.5 26.5V48L1434.5 37.3Z" fill="none" stroke="#b4b7bf" stroke-width="2.2" stroke-linecap="round" stroke-linejoin="round"/>
<rect x="1585.4" y="21.3" width="35.4" height="31" rx="5.5" fill="none" stroke="#b4b7bf" stroke-width="2.3"/>
<path d="M1690.5 26.5L1682.5 34.5L1690.5 42.5M1683 34.5H1696.5c7 0 10.8 4.5 10.8 10.8" fill="none" stroke="#b4b7bf" stroke-width="2.3" stroke-linecap="round" stroke-linejoin="round"/>
<path d="M1775.5 26.5L1783.5 34.5L1775.5 42.5M1783 34.5H1769.5c-7 0-10.8 4.5-10.8 10.8" fill="none" stroke="#4b505b" stroke-width="2.3" stroke-linecap="round" stroke-linejoin="round"/>
<path d="M2473.400 21.100A14.400 14.400 0 1 0 2491.300 33M2487.500 45.300L2497.300 55.200" fill="none" stroke="#b4b7bf" stroke-width="2.3" stroke-linecap="round" stroke-linejoin="round"/>
<path d="M2485.300 16.500a1.100 1.100 0 0 0 -2 -0.700L2475.200 26.600a0.800 0.800 0 0 0 0.600 1.300H2480.800V37.500a1.100 1.100 0 0 0 2 0.700L2490.900 27.100a0.800 0.800 0 0 0 -0.600 -1.300H2485.300Z" fill="none" stroke="#b4b7bf" stroke-width="2.2" stroke-linecap="round" stroke-linejoin="round"/>
<path d="M2536 36L2545.500 19.200H2566.500L2576 36L2566.500 52.800H2545.500Z" fill="none" stroke="#b4b7bf" stroke-width="2.3" stroke-linecap="round" stroke-linejoin="round"/>
<circle cx="2556" cy="36" r="7.3" fill="none" stroke="#b4b7bf" stroke-width="2.3"/>
<path d="M2611.2 27.5a4 4 0 0 1 4-4H2620.5L2623.8 19.2H2637.6L2640.9 23.5H2646.5a4 4 0 0 1 4 4V46.5a4 4 0 0 1-4 4H2615.2a4 4 0 0 1-4-4Z" fill="none" stroke="#b4b7bf" stroke-width="2.3" stroke-linecap="round" stroke-linejoin="round"/>
<circle cx="2630.8" cy="36.7" r="8" fill="none" stroke="#b4b7bf" stroke-width="2.3"/>
<path d="M2711.5 31V23.7H2720M2731 23.7H2739.2V31M2739.2 43V50.5H2731M2720 50.5H2711.5V43" fill="none" stroke="#b4b7bf" stroke-width="2.4" stroke-linecap="butt" stroke-linejoin="round"/>
<path d="M2797 21.6H2835.5M2797 36.6H2835.5M2797 51.5H2835.5" fill="none" stroke="#b4b7bf" stroke-width="3" stroke-linecap="round" stroke-linejoin="round"/>
<path d="M51 108V124M51 138V154M28 131H44M58 131H74" fill="none" stroke="#5fd686" stroke-width="2.2" stroke-linecap="butt" stroke-linejoin="round"/>
<circle cx="34.8" cy="203" r="4.2" fill="none" stroke="#b4b7bf" stroke-width="2.2"/>
<path d="M39.5 203H72" fill="none" stroke="#b4b7bf" stroke-width="2.2" stroke-linecap="round" stroke-linejoin="round"/>
<path d="M28 255H72M28 267H66.5M28 279H72M33.5 291H72" fill="none" stroke="#b4b7bf" stroke-width="2.2" stroke-linecap="round" stroke-linejoin="round"/>
<circle cx="71" cy="267" r="4.2" fill="none" stroke="#b4b7bf" stroke-width="2.2"/>
<circle cx="28.9" cy="291" r="4.2" fill="none" stroke="#b4b7bf" stroke-width="2.2"/>
<path d="M38 333L33.6 359.5M40.6 332.8L45 339.5M44.5 346.3L35 360M50.5 341L59.4 333.5M63.7 335L67.8 353.2M50.4 345L65.2 355" fill="none" stroke="#b4b7bf" stroke-width="2.1" stroke-linecap="round" stroke-linejoin="round"/>
<circle cx="38.8" cy="329.2" r="4" fill="none" stroke="#b4b7bf" stroke-width="2.1"/>
<circle cx="62.7" cy="331" r="4" fill="none" stroke="#b4b7bf" stroke-width="2.1"/>
<circle cx="46.9" cy="343" r="4" fill="none" stroke="#b4b7bf" stroke-width="2.1"/>
<circle cx="68.8" cy="357.3" r="4" fill="none" stroke="#b4b7bf" stroke-width="2.1"/>
<circle cx="32.8" cy="363.4" r="4" fill="none" stroke="#b4b7bf" stroke-width="2.1"/>
<path d="M30 399.2H62.8M39.2 439.3H72M51 435.5V407" fill="none" stroke="#b4b7bf" stroke-width="2.2" stroke-linecap="round" stroke-linejoin="round"/>
<circle cx="67.1" cy="399.2" r="4.1" fill="none" stroke="#b4b7bf" stroke-width="2.2"/>
<circle cx="34.8" cy="439.3" r="4.1" fill="none" stroke="#b4b7bf" stroke-width="2.2"/>
<path d="M51 402L55.4 408.2H46.6Z" fill="#b4b7bf"/>
<path d="M37 473.2H63M37 507.4H63M32.8 477.4V503.2M67.1 477.4V503.2" fill="none" stroke="#b4b7bf" stroke-width="2.2" stroke-linecap="round" stroke-linejoin="round"/>
<circle cx="32.8" cy="473.2" r="4.1" fill="none" stroke="#b4b7bf" stroke-width="2.2"/>
<circle cx="67.1" cy="473.2" r="4.1" fill="none" stroke="#b4b7bf" stroke-width="2.2"/>
<circle cx="32.8" cy="507.4" r="4.1" fill="none" stroke="#b4b7bf" stroke-width="2.2"/>
<circle cx="67.1" cy="507.4" r="4.1" fill="none" stroke="#b4b7bf" stroke-width="2.2"/>
<path d="M36.5 551.5V547.5a2 2 0 0 1 2-2H63.5a2 2 0 0 1 2 2V551.5M51 545.5V579M46.2 579.2H56" fill="none" stroke="#b4b7bf" stroke-width="2.2" stroke-linecap="round" stroke-linejoin="round"/>
<path d="M50 653.5L30.5 636c-6-6-5.5-14.5 0-18.8c5.8-4.4 14.5-3 19.5 4.3c5-7.3 13.7-8.7 19.5-4.3c5.500 4.300 6 12.800 0 18.800Z" fill="none" stroke="#b4b7bf" stroke-width="2.3" stroke-linecap="round" stroke-linejoin="round"/>
<path d="M14 683H86M14 853H86M14 1167H86" fill="none" stroke="#1f2835" stroke-width="2" stroke-linecap="round" stroke-linejoin="round"/>
<path d="M26.3 745.1L63.1 708.3a1.5 1.5 0 0 1 2.1 0L73.6 716.7a1.5 1.5 0 0 1 0 2.100L36.800 755.600a1.500 1.500 0 0 1 -2.100 0L26.300 747.200a1.500 1.500 0 0 1 0 -2.100ZM33.3 738.1L36.5 741.300M39.800 731.600L43.800 735.600M46.300 725.100L49.500 728.300M52.800 718.600L56.800 722.600M59.300 712.100L62.500 715.300" fill="none" stroke="#b4b7bf" stroke-width="2.2" stroke-linecap="round" stroke-linejoin="round"/>
<circle cx="47.1" cy="800.9" r="16.4" fill="none" stroke="#b4b7bf" stroke-width="2.2"/>
<path d="M40.4 800.9H53.8M47.1 794.2V807.6M58.8 812.7L66 820" fill="none" stroke="#b4b7bf" stroke-width="2.2" stroke-linecap="round" stroke-linejoin="round"/>
<path d="M34.2 920V898a15.8 15.8 0 0 1 31.6 0V920H55.4V898a5.400 5.400 0 0 0 -10.800 0V920ZM34.200 911.500H44.600M55.400 911.500H65.800" fill="none" stroke="#b4b7bf" stroke-width="2.2" stroke-linecap="round" stroke-linejoin="miter"/>
<path d="M28.3 985V977.4L49.5 956.2a5 5 0 0 1 7.2 0L59.500 959a5 5 0 0 1 0 7.200L38 985ZM47.500 958.200L57.500 968.200" fill="none" stroke="#b4b7bf" stroke-width="2.2" stroke-linecap="round" stroke-linejoin="round"/>
<rect x="52.600" y="982.600" width="17.400" height="12.800" rx="2.200" fill="#10151f" stroke="#b4b7bf" stroke-width="2.100"/>
<path d="M56.8 982.500V978.500a4.600 4.600 0 0 1 9 -1.200" fill="none" stroke="#b4b7bf" stroke-width="2.1" stroke-linecap="round" stroke-linejoin="round"/>
<path d="M61.3 987.800V990.600" fill="none" stroke="#b4b7bf" stroke-width="2" stroke-linecap="round" stroke-linejoin="round"/>
<rect x="34.600" y="1043.300" width="31" height="22" rx="3.500" fill="none" stroke="#b4b7bf" stroke-width="2.300"/>
<path d="M42.9 1043V1036a7.400 7.400 0 0 1 14.700 -0.800" fill="none" stroke="#b4b7bf" stroke-width="2.3" stroke-linecap="round" stroke-linejoin="round"/>
<path d="M50.2 1051.500V1057" fill="none" stroke="#b4b7bf" stroke-width="3" stroke-linecap="round" stroke-linejoin="round"/>
<path d="M29.5 1110.300C35.500 1101.300 41.500 1096.500 47.900 1096.500S60.500 1101.300 66.500 1110.300C60.500 1119.300 54.500 1124 47.900 1124S35.500 1119.300 29.500 1110.300Z" fill="none" stroke="#b4b7bf" stroke-width="2.3" stroke-linecap="round" stroke-linejoin="round"/>
<circle cx="47.9" cy="1110.3" r="6.6" fill="none" stroke="#b4b7bf" stroke-width="2.3"/>
<path d="M51 1139.500L56 1132.500c2 -2.200 5.500 -2 7.500 0c-1 4.500 -5 7 -12.500 7ZM64.500 1133.500c-1.500 -3.500 2.500 -4 7.500 -5.500" fill="none" stroke="#b4b7bf" stroke-width="1.9" stroke-linecap="round" stroke-linejoin="round"/>
<path d="M32 1203H68M42.900 1203V1199.500a2.600 2.600 0 0 1 2.600 -2.600H55a2.600 2.600 0 0 1 2.600 2.600V1203M36.500 1203L39.600 1233a2.500 2.500 0 0 0 2.500 2.300H58.400a2.500 2.500 0 0 0 2.500 -2.300L64.200 1203" fill="none" stroke="#b4b7bf" stroke-width="2.2" stroke-linecap="round" stroke-linejoin="round"/>
<rect x="90.500" y="1452.600" width="17" height="52.700" rx="8.500" fill="#0b0f16"/>
<path d="M101 1472L96.500 1478.700L101 1485.500" fill="none" stroke="#b4b7bf" stroke-width="2" stroke-linecap="round" stroke-linejoin="round"/>
<path d="M49.9 1526.7L55.0 1540.0L69.2 1540.7L58.1 1549.7L61.8 1563.4L49.9 1555.6L38.0 1563.4L41.7 1549.7L30.6 1540.7L44.8 1540.0Z" fill="none" stroke="#b4b7bf" stroke-width="2.2" stroke-linecap="round" stroke-linejoin="miter"/>
<circle cx="2811.7" cy="112" r="17" fill="none" stroke="#b4b7bf" stroke-width="2.4"/>
<path d="M2824.2 124.500L2836.700 136.700" fill="none" stroke="#b4b7bf" stroke-width="2.4" stroke-linecap="round" stroke-linejoin="round"/>
<path d="M2806.300 113.500V119M2811.700 105V119M2817.100 109.500V119" fill="none" stroke="#b4b7bf" stroke-width="2.8" stroke-linecap="butt" stroke-linejoin="round"/>
<rect x="2798.200" y="174.200" width="35.700" height="35.200" rx="5" fill="none" stroke="#b4b7bf" stroke-width="2.400"/>
<text x="2816" y="201.300" font-size="27" fill="#b4b7bf" text-anchor="middle">$</text>
<circle cx="2816" cy="270.4" r="18" fill="none" stroke="#b4b7bf" stroke-width="2.4"/>
<path d="M2807 270.400H2825M2816 261.400V279.400M2802.500 284L2798 288.500M2829.500 284L2834 288.500M2795.600 256.500a7.500 7.500 0 0 1 10.500 -8.200M2836.400 256.500a7.500 7.500 0 0 0 -10.500 -8.200" fill="none" stroke="#b4b7bf" stroke-width="2.4" stroke-linecap="round" stroke-linejoin="round"/>
<path d="M2816 322.500V352.500M2803 342L2816 353.500L2829 342M2804.500 350.300H2799.500a4.500 4.500 0 0 0 -4.500 4.500V359.500a4.500 4.500 0 0 0 4.500 4.500H2832.500a4.500 4.500 0 0 0 4.500 -4.500V354.800a4.500 4.500 0 0 0 -4.500 -4.500H2827.500" fill="none" stroke="#b4b7bf" stroke-width="2.4" stroke-linecap="round" stroke-linejoin="round"/>
<circle cx="2829.6" cy="357.6" r="1.4" fill="#b4b7bf" stroke="#b4b7bf" stroke-width="1.6"/>
<path d="M2809 405.500H2836.300a1.300 1.300 0 0 1 1 2.100L2826 421.500V431.500L2819.300 427V421.500L2808 407.600a1.300 1.300 0 0 1 1 -2.100Z" fill="none" stroke="#b4b7bf" stroke-width="2.3" stroke-linecap="round" stroke-linejoin="round"/>
<path d="M2806 409.700H2796a1.300 1.300 0 0 0 -1 2.100L2806.300 425.500V430L2813 434.500V423.500" fill="none" stroke="#b4b7bf" stroke-width="2.3" stroke-linecap="round" stroke-linejoin="round"/>
<rect x="2798.200" y="481.300" width="35.700" height="35" rx="5.500" fill="none" stroke="#b4b7bf" stroke-width="2.400"/>
<path d="M2798.200 489H2833.900M2806.300 474.500V481M2825.700 474.500V481" fill="none" stroke="#b4b7bf" stroke-width="2.4" stroke-linecap="round" stroke-linejoin="round"/>
<path d="M2816 555L2837 566.400L2816 577.800L2795 566.400ZM2802.500 572.500L2795 576.600L2816 588L2837 576.600L2829.500 572.500" fill="none" stroke="#b4b7bf" stroke-width="2.4" stroke-linecap="round" stroke-linejoin="round"/>
<circle cx="2816" cy="647.8" r="18" fill="none" stroke="#b4b7bf" stroke-width="2.4"/>
<path d="M2822 629.800a18.500 18.500 0 0 1 0 36c5 -9 6.500 -26 0 -36Z" fill="#b4b7bf"/>
<path d="M2816 629.800c-9 9 -9 27 0 36M2816 629.800c7.500 9 7.500 27 0 36M2798.500 642.500H2822M2798.500 653.500H2822" fill="none" stroke="#b4b7bf" stroke-width="2.2" stroke-linecap="round" stroke-linejoin="round"/>
<path d="M2795 1205.500V1200a21 21 0 0 1 42 0V1212a6 6 0 0 1 -6 6H2824" fill="none" stroke="#b4b7bf" stroke-width="2.4" stroke-linecap="round" stroke-linejoin="round"/>
<path d="M2809.500 1197.500H2806a5 5 0 0 0 -5 5V1205a5 5 0 0 0 5 5H2809.500ZM2822.500 1197.500H2826a5 5 0 0 1 5 5V1205a5 5 0 0 1 -5 5H2822.500Z" fill="none" stroke="#b4b7bf" stroke-width="2.2" stroke-linecap="round" stroke-linejoin="round"/>
<rect x="2811.500" y="1215.200" width="12" height="5.600" rx="2.800" fill="none" stroke="#b4b7bf" stroke-width="2.200"/>
<circle cx="2828.5" cy="1263" r="5.7" fill="none" stroke="#b4b7bf" stroke-width="2.5"/>
<circle cx="2803.7" cy="1275.7" r="5.7" fill="none" stroke="#b4b7bf" stroke-width="2.5"/>
<circle cx="2828.5" cy="1288.6" r="5.7" fill="none" stroke="#b4b7bf" stroke-width="2.5"/>
<path d="M2809 1273L2823.300 1265.700M2809 1278.400L2823.300 1285.900" fill="none" stroke="#b4b7bf" stroke-width="2.5" stroke-linecap="round" stroke-linejoin="round"/>
<rect x="2795.600" y="1336.700" width="41" height="31" rx="5" fill="none" stroke="#b4b7bf" stroke-width="2.400"/>
<path d="M2795.600 1343.400H2836.600M2795.600 1349.300H2836.600M2802.500 1360.400H2808M2812 1360.400H2822.500" fill="none" stroke="#b4b7bf" stroke-width="2.4" stroke-linecap="round" stroke-linejoin="round"/>
<path d="M2814.500 1440.200C2816.500 1433 2812 1426 2812.800 1421.500C2813.800 1416.500 2817.500 1414.500 2820.500 1414.600C2825.500 1414.800 2828 1418.500 2829.300 1423C2830.800 1428 2834 1430 2837 1432a0.900 0.900 0 0 1 -0.200 1.500L2816.300 1441.300a1.300 1.300 0 0 1 -1.800 -1.100Z" fill="none" stroke="#b4b7bf" stroke-width="2.3" stroke-linecap="round" stroke-linejoin="round"/>
<path d="M2813.300 1413.700C2808.500 1412.500 2804 1415.500 2802.500 1419.500C2800.800 1424 2799.500 1426.500 2795 1429.300a0.900 0.900 0 0 0 0.200 1.500L2811.500 1436.500" fill="none" stroke="#b4b7bf" stroke-width="2.3" stroke-linecap="round" stroke-linejoin="round"/>
<path d="M2800.800 1436.800a3.400 3.400 0 0 0 6.500 1.900M2823.800 1441a3.500 3.500 0 0 0 6.600 -2.300" fill="none" stroke="#b4b7bf" stroke-width="2.3" stroke-linecap="round" stroke-linejoin="round"/>
<circle cx="2816" cy="1504.1" r="21" fill="none" stroke="#b4b7bf" stroke-width="2.4"/>
<path d="M2812.500 1501H2816V1512.500M2811.300 1512.500H2820.800" fill="none" stroke="#b4b7bf" stroke-width="2.6" stroke-linecap="round" stroke-linejoin="round"/>
<circle cx="2815.8" cy="1495.6" r="1.6" fill="#b4b7bf" stroke="#b4b7bf" stroke-width="1.4"/>
<path d="M2806.500 1563a19.300 19.300 0 1 0 19 0M2816 1559V1582" fill="none" stroke="#e2494f" stroke-width="2.8" stroke-linecap="round" stroke-linejoin="round"/>
<clipPath id="av"><circle cx="2816" cy="1655.100" r="22"/></clipPath>
<g clip-path="url(#av)"><rect x="2790" y="1630" width="52" height="52" fill="#e5f1f3"/><path d="M2799 1670.500L2810 1664.800H2823.500L2833.500 1669.500L2838 1680H2794Z" fill="#566086"/><path d="M2810 1663L2813 1680H2824L2823.600 1663.500L2818.500 1666.500Z" fill="#ffffff"/><path d="M2817 1668.800L2818.400 1667.700L2819.800 1669L2819.300 1671.500L2820.300 1679H2817.200L2817.500 1671.500Z" fill="#1f5fae"/><path d="M2810.500 1656V1663L2818.500 1666.500L2822.300 1662.500V1656Z" fill="#eeaf78"/><path d="M2809.900 1646c0 -3 2 -4.500 7 -4.500s6.700 1.500 6.700 4.500v7.500c0 4 -2.500 7.300 -6 7.300c-4.500 0 -7.700 -3.300 -7.700 -7.300Z" fill="#f1b783"/><path d="M2810 1652.500c-1.800 -3.500 -2.200 -6.500 -1.700 -8.500c0.800 -3.500 3 -5 6 -5.200c3 -0.200 5.500 0 8 -0.300c1.200 0.800 2.200 1.700 2.600 2.800c-0.900 1 -1.600 2 -1.700 3.200c-3 -1.700 -7 -1.500 -10 -0.500c-0.800 2.500 -1.300 5 -1.200 8c-0.700 0.300 -1.300 0.500 -2 0.500Z" fill="#3e2519"/><ellipse cx="2814.900" cy="1650" rx="0.800" ry="1.100" fill="#2a1a12"/><ellipse cx="2820.600" cy="1650" rx="0.800" ry="1.100" fill="#2a1a12"/><path d="M2816 1655.200c1.200 0.700 2.800 0.700 4 0c-0.500 1.700 -3.300 1.800 -4 0Z" fill="#ffffff"/></g>
<circle cx="146" cy="114" r="18.1" fill="#aeabb9" stroke="none" stroke-width="0"/>
<path d="M142.8 106H149.3L152.8 112H139.1ZM136.1 114.1H141.9L145.4 120H132.1ZM150 114.1H155.7L159.8 120H146.600Z" fill="#ffffff"/>
<circle cx="547" cy="113.7" r="18" fill="#1b2a31" stroke="none" stroke-width="0"/>
<circle cx="547" cy="113.7" r="8.2" fill="#4aa38a" stroke="none" stroke-width="0"/>
<path d="M339.800 1637V1692M508.100 1637V1692M2612 1631V1693" fill="none" stroke="#1d2733" stroke-width="3.8" stroke-linecap="butt" stroke-linejoin="round"/>
<rect x="281.200" y="1649.500" width="30" height="29.500" rx="4" fill="none" stroke="#b4b7bf" stroke-width="2.200"/>
<path d="M281.200 1657.500H311.200M288.500 1645V1651.500M304 1645V1651.500M290 1667.500L294.500 1672L302.500 1664" fill="none" stroke="#b4b7bf" stroke-width="2.2" stroke-linecap="round" stroke-linejoin="round"/>
<path d="M463.600 1643.500a17.500 17.500 0 1 0 16.500 11.500M463.600 1650a11.200 11.200 0 1 0 10.500 7.300M463.600 1656.200a5 5 0 1 0 4.700 3.300M463.600 1661L478.500 1646" fill="none" stroke="#b4b7bf" stroke-width="2.2" stroke-linecap="round" stroke-linejoin="round"/>
<rect x="2357.200" y="1647.800" width="33.500" height="12.500" rx="4" fill="none" stroke="#b4b7bf" stroke-width="2.200"/>
<rect x="2357.200" y="1664.300" width="33.500" height="12.500" rx="4" fill="none" stroke="#b4b7bf" stroke-width="2.200"/>
<path d="M2378.500 1654H2380M2384 1654H2385.500M2378.500 1670.500H2380M2384 1670.500H2385.500" fill="none" stroke="#b4b7bf" stroke-width="2.4" stroke-linecap="round" stroke-linejoin="round"/>
<path d="M2583 1652.200a14.800 14.800 0 1 0 0.500 18.800" fill="none" stroke="#b4b7bf" stroke-width="2.4" stroke-linecap="round" stroke-linejoin="round"/>
<path d="M2587.200 1646.300V1656.900H2577Z" fill="none" stroke="#b4b7bf" stroke-width="2.3" stroke-linecap="round" stroke-linejoin="round"/>
<path d="M2636.300 1648L2671.500 1675.700" fill="none" stroke="#b4b7bf" stroke-width="2.1" stroke-linecap="round" stroke-linejoin="round"/>
<path d="M2647.400 1652c7.500 -3 16.500 0.500 21.800 9.600L2666.700 1666.900M2652.500 1656.500c4 -0.500 7.200 1.800 7.900 5.500" fill="none" stroke="#b4b7bf" stroke-width="2.1" stroke-linecap="round" stroke-linejoin="round"/>
<path d="M2641.400 1657.400L2659.400 1672.200M2640 1661.600L2654.800 1673.100M2640.900 1667.100L2648.300 1673.100" fill="none" stroke="#b4b7bf" stroke-width="2.1" stroke-linecap="round" stroke-linejoin="round"/>
<rect x="2692.300" y="1631" width="61.600" height="62" rx="7" fill="#1d2733"/>
<rect x="2703.7" y="1673" width="4.700" height="6.8" rx="2.300" fill="none" stroke="#5fd686" stroke-width="2.400"/>
<rect x="2715.6" y="1663.2" width="4.700" height="16.6" rx="2.300" fill="none" stroke="#5fd686" stroke-width="2.400"/>
<rect x="2727.5" y="1653.800" width="4.700" height="26.0" rx="2.300" fill="none" stroke="#5fd686" stroke-width="2.400"/>
<rect x="2739.5" y="1644.2" width="4.700" height="35.6" rx="2.300" fill="none" stroke="#5fd686" stroke-width="2.400"/>
<path d="M2679.500 1584.300L2686.300 1572.500H2699.700L2706.500 1584.300L2699.700 1596.100H2686.300Z" fill="none" stroke="#ececee" stroke-width="2.2" stroke-linecap="round" stroke-linejoin="round"/>
<circle cx="2693" cy="1584.3" r="3.8" fill="none" stroke="#ececee" stroke-width="2.2"/></svg>
</body></html>
